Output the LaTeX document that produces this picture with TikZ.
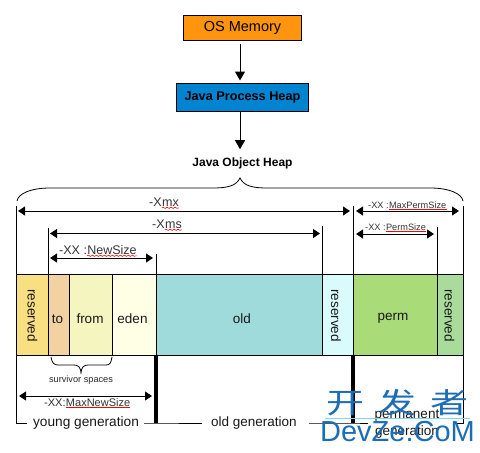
\documentclass[tikz,border=0pt]{standalone}
\usepackage{fontspec}
\setmainfont{Liberation Sans}
\newfontfamily\cjkfont{Noto Sans CJK SC}
\usetikzlibrary{calc, arrows.meta, positioning, decorations.pathmorphing}
\definecolor{osorange}{HTML}{FF950E}
\definecolor{heapblue}{HTML}{0084D1}
\definecolor{markblue}{HTML}{1B6DB5}
\begin{document}
\begin{tikzpicture}[
    x=1pt, y=-1pt,
    box/.style={draw, line width=1pt, anchor=north west, inner sep=0pt, outer sep=0pt, align=center},
    seg/.style={draw, line width=1pt, anchor=north west, inner sep=0pt, outer sep=0pt, minimum height=81.5pt},
    seglbl/.style={inner sep=0pt, text=black!90, font=\fontsize{13.5}{14}\selectfont},
    flow/.style={-{Triangle[length=9pt,width=10pt]}, line width=1pt},
    dim/.style={{Triangle[length=7pt,width=9pt]}-{Triangle[length=7pt,width=9pt]}, line width=0.9pt},
    tick/.style={line width=0.9pt},
    lbl/.style={inner sep=0pt, anchor=base west, text=black!80, font=\fontsize{12.5}{13}\selectfont},
    small/.style={lbl, font=\fontsize{9.2}{10}\selectfont},
    wavy/.style={red, line width=0.6pt, decorate, decoration={snake, amplitude=0.6pt, segment length=4pt}},
    straightred/.style={red, line width=1pt},
    gen/.style={inner sep=0pt, align=center, text=black!90, font=\fontsize{13.7}{15}\selectfont}
]
    \useasboundingbox (0,0) rectangle (480,453);

    % top boxes
    \node[box, fill=osorange, minimum width=118pt, minimum height=25pt, font=\fontsize{14.5}{15}\selectfont] (osmem) at (183.5,15.5) {OS Memory};
    \node[box, fill=heapblue, minimum width=132pt, minimum height=28pt, font=\bfseries\fontsize{12.7}{13}\selectfont] (procheap) at (176.5,83.5) {Java Process Heap};
    \node[inner sep=0pt, font=\bfseries\fontsize{12}{13}\selectfont] (objheap) at (242.5,163) {Java Object Heap};
    \coordinate (axis) at (240,0);
    \draw[flow, shorten <=3pt, shorten >=3pt] (osmem.south -| axis) -- (procheap.north -| axis);
    \draw[flow, shorten >=8pt] (procheap.south -| axis) -- (objheap.north -| axis);

    % heap bar
    \foreach \segname/\segtxt/\segcol/\segx/\segw/\segang/\segdx/\segdy in {
        resvA/reserved/F8DF82/16.5/32/-90/0/1,
        to/to/F2D2A0/48.5/21/0/-1.5/4,
        from/from/F5F5C0/69.5/43/0/-1/4,
        eden/eden/FFFFE6/112.5/44/0/-2/4,
        old/old/A0DBDB/156.5/166/0/2.5/4,
        resvB/reserved/D9FBFB/322.5/31/-90/-2/1,
        perm/perm/A9DB78/353.5/84/0/-2.5/4,
        resvC/reserved/A9DB9A/437.5/26/-90/-1/1
    }{
        \definecolor{segfill}{HTML}{\segcol}
        \node[seg, fill=segfill, minimum width=\segw pt] (\segname) at (\segx,274) {};
        \node[seglbl, rotate=\segang] (\segname lbl) at ($(\segname.center)+(\segdx,\segdy)$) {\segtxt};
    }

    % big brace
    \draw[line width=0.8pt] (17,201) .. controls (18,194) and (30,188) .. (50,188)
        -- (212,188) .. controls (228,188) and (236,186) .. (240,178)
        .. controls (244,186) and (252,188) .. (268,188)
        -- (430,188) .. controls (450,188) and (462,194) .. (463,201);

    % ticks above the bar
    \coordinate (tkA) at (16.5,206);
    \coordinate (tkB) at (48.5,228);
    \coordinate (tkC) at (156.5,254);
    \coordinate (tkD) at (322.5,226);
    \coordinate (tkE) at (353.5,206);
    \coordinate (tkF) at (437.5,227);
    \coordinate (tkG) at (463,206);
    \draw[tick] (tkA) -- (resvA.north west);
    \draw[tick] (tkB) -- (to.north west);
    \draw[tick] (tkC) -- (eden.north east);
    \draw[tick] (tkD) -- (resvB.north west);
    \draw[tick] (tkE) -- (perm.north west);
    \draw[tick] (tkF) -- (resvC.north west);
    \draw[tick] (tkG) -- (tkG |- resvC.north);

    % size arrows
    \draw[dim] (18,211) -- (350,211);
    \draw[dim] (356,211) -- (459,211);
    \draw[dim] (50,233.5) -- (320,233.5);
    \draw[dim] (356,234) -- (434,234);
    \draw[dim] (50,258) -- (153,258);
    \draw[dim] (19,396) -- (152,396);

    % size labels
    \node[lbl] (xmxpre) at (149,206) {-X};
    \node[lbl] (xmxkey) at (xmxpre.base east) {mx};
    \draw[wavy] ([yshift=-1.8pt]xmxkey.base west) -- ([yshift=-1.8pt]xmxkey.base east);
    \node[lbl] (xmspre) at (152,228) {-X};
    \node[lbl] (xmskey) at (xmspre.base east) {ms};
    \draw[wavy] ([yshift=-1.8pt]xmskey.base west) -- ([yshift=-1.8pt]xmskey.base east);
    \node[lbl] (newpre) at (59,254) {-XX :};
    \node[lbl] (newkey) at (newpre.base east) {NewSize};
    \draw[wavy] ([yshift=-1.8pt]newkey.base west) -- ([yshift=-1.8pt]newkey.base east);
    \node[lbl, font=\fontsize{11}{12}\selectfont] (maxnewpre) at (44,406) {-XX:};
    \node[lbl, font=\fontsize{11}{12}\selectfont] (maxnewkey) at (maxnewpre.base east) {MaxNewSize};
    \draw[straightred] ([yshift=-1.5pt]maxnewkey.base west) -- ([yshift=-1.5pt]maxnewkey.base east);
    \node[small] (maxpermpre) at (368,208) {-XX :};
    \node[small] (maxpermkey) at (maxpermpre.base east) {MaxPermSize};
    \draw[straightred] ([yshift=-1.5pt]maxpermkey.base west) -- ([yshift=-1.5pt]maxpermkey.base east);
    \node[small] (permpre) at (365,230) {-XX :};
    \node[small] (permkey) at (permpre.base east) {PermSize};
    \draw[straightred] ([yshift=-1.5pt]permkey.base west) -- ([yshift=-1.5pt]permkey.base east);

    % survivor brace
    \draw[line width=0.8pt] (51,357) .. controls (52,363) and (54,365) .. (58,365)
        -- (74,365) .. controls (78,365) and (81,367) .. (81,374)
        .. controls (81,367) and (84,365) .. (88,365)
        -- (106,365) .. controls (110,365) and (111,363) .. (112,357);
    \node[inner sep=0pt, anchor=base, text=black!85, font=\fontsize{9.2}{10}\selectfont] (survivor) at (81,382) {survivor spaces};

    % generations
    \node[gen] (younggen) at (86,423) {young generation};
    \node[gen, font=\fontsize{13.5}{15}\selectfont] (oldgen) at (254,423) {old generation};
    \node[gen, font=\fontsize{13.5}{17}\selectfont] (permgen) at (407,424) {permanent\\generation};
    \coordinate (barA) at (156,423);
    \coordinate (barB) at (353,423);
    \coordinate (cornerL) at (16.5,423);
    \coordinate (cornerR) at (463,423);
    \draw[line width=4pt] (barA |- eden.south) -- (barA);
    \draw[line width=4pt] (barB |- perm.south) -- (barB);
    \draw[tick] (resvA.south west) -- (cornerL) -- ++(10.5,0);
    \draw[tick] ($(younggen.east)+(5,0)$) -- (barA) -- ($(oldgen.west)+(-9,0)$);
    \draw[tick] ($(oldgen.east)+(12,0)$) -- (barB) -- ++(15,0);
    \draw[tick] (453,423) -- (cornerR) -- (cornerR |- resvC.south);

    % site mark over the corner
    \node[inner sep=0pt, text=markblue, font=\cjkfont\fontsize{38}{38}\selectfont] (markcn) at (397.5,403) {\scalebox{1}[0.75]{开\hspace{14pt}发\hspace{14pt}者}};
    \draw[cyan!50, line width=0.8pt] (325,418.5) -- (470,418.5);
    \node[inner sep=0pt, text=markblue, font=\fontsize{29}{29}\selectfont] (markdom) at (397.5,432) {DevZe.CoM};
\end{tikzpicture}
\end{document}
